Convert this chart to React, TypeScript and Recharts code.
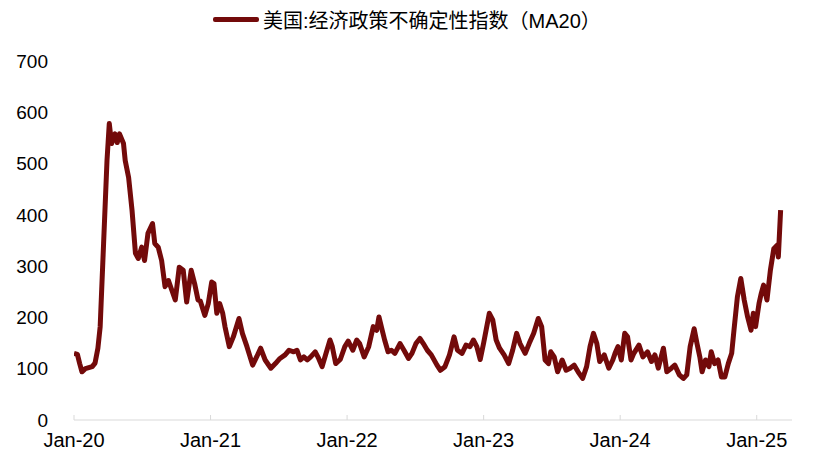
import { LineChart, Line, XAxis, YAxis } from 'recharts';

// months since Jan-2020
const months = [
  0, 0.3, 0.5, 0.7, 1.0, 1.3, 1.6, 1.85, 2.1, 2.3, 2.6, 2.9, 3.1, 3.3, 3.6, 3.8, 4.0, 4.35, 4.5, 4.8,
  5.1, 5.4, 5.65, 5.95, 6.2, 6.5, 6.9, 7.1, 7.4, 7.7, 8.0, 8.3, 8.6, 8.9, 9.25, 9.6, 9.9, 10.3, 10.6, 10.9,
  11.1, 11.5, 11.8, 12.1, 12.3, 12.55, 12.8, 13.07, 13.27, 13.65, 14.0, 14.5, 14.8, 15.2, 15.7, 16.05, 16.4, 16.8, 17.3, 17.7,
  18.1, 18.55, 18.9, 19.3, 19.6, 19.9, 20.2, 20.5, 20.8, 21.2, 21.5, 21.8, 22.15, 22.5, 22.7, 23.0, 23.4, 23.8, 24.1, 24.5,
  24.85, 25.1, 25.5, 25.9, 26.3, 26.6, 26.8, 27.05, 27.3, 27.6, 27.9, 28.2, 28.65, 29.0, 29.4, 29.7, 30.05, 30.4, 30.7, 31.05,
  31.4, 31.9, 32.2, 32.6, 33.0, 33.4, 33.7, 34.1, 34.45, 34.8, 35.1, 35.4, 35.7, 36.0, 36.5, 36.8, 37.1, 37.4, 37.8, 38.2,
  38.55, 38.9, 39.2, 39.65, 40.0, 40.4, 40.8, 41.1, 41.4, 41.7, 41.9, 42.2, 42.5, 42.9, 43.25, 43.6, 43.95, 44.3, 44.7, 45.05,
  45.35, 45.65, 45.95, 46.2, 46.6, 47.0, 47.35, 47.55, 47.8, 48.1, 48.4, 48.65, 48.95, 49.2, 49.65, 50.0, 50.4, 50.75, 51.05, 51.35,
  51.8, 52.1, 52.5, 52.8, 53.2, 53.55, 53.85, 54.15, 54.5, 54.75, 55.0, 55.2, 55.5, 55.8, 56.0, 56.3, 56.6, 56.9, 57.2, 57.5,
  57.8, 58.0, 58.3, 58.6, 58.9, 59.2, 59.5, 59.7, 59.9, 60.2, 60.4, 60.6, 60.9, 61.2, 61.5, 61.8, 61.9, 62.1,
];

const epu = [
  130, 128, 110, 94, 100, 102, 104, 111, 140, 182, 344, 506, 578, 539, 558, 541, 558, 539, 506, 473,
  409, 325, 315, 337, 311, 364, 383, 344, 337, 311, 260, 272, 253, 234, 298, 292, 230, 292, 266, 234,
  232, 204, 227, 269, 266, 208, 227, 208, 182, 143, 162, 198, 169, 143, 107, 123, 140, 117, 101, 110,
  120, 127, 136, 133, 136, 117, 123, 117, 123, 133, 120, 104, 130, 156, 143, 110, 118, 143, 154, 136,
  156, 149, 123, 143, 182, 175, 201, 178, 156, 133, 136, 130, 149, 136, 120, 130, 149, 159, 149, 136,
  127, 107, 97, 104, 127, 162, 136, 130, 146, 143, 156, 143, 118, 150, 208, 195, 156, 140, 127, 110,
  136, 169, 149, 130, 149, 169, 198, 182, 117, 110, 133, 123, 94, 117, 97, 101, 107, 94, 81, 104,
  143, 169, 149, 114, 127, 101, 117, 130, 143, 117, 169, 162, 117, 130, 146, 123, 133, 114, 127, 101,
  140, 94, 101, 107, 88, 81, 88, 143, 178, 149, 123, 94, 117, 104, 133, 110, 117, 84, 84, 110,
  130, 175, 240, 276, 234, 201, 175, 208, 182, 227, 247, 263, 234, 292, 334, 341, 318, 409,
];

const tickMonths = [0, 12, 24, 36, 48, 60];
const tickLabels = ['Jan-20', 'Jan-21', 'Jan-22', 'Jan-23', 'Jan-24', 'Jan-25'];
const yTicks = [0, 100, 200, 300, 400, 500, 600, 700];

const seriesName = '美国:经济政策不确定性指数（MA20）';

const data = months.map((t, i) => ({ t, v: epu[i] }));

const FONT = '"Liberation Sans", Arial, "Noto Sans CJK SC", sans-serif';
const LINE_COLOR = '#730a0a';

const XTick = (props: any) => {
  const { x, y, payload } = props;
  const idx = tickMonths.indexOf(payload.value);
  return (
    <g>
      <line x1={x} x2={x} y1={y} y2={y - 5} stroke="#d9d9d9" strokeWidth={1} />
      <text x={x} y={y + 27} textAnchor="middle" fontSize={20} fontFamily={FONT} fill="#000">
        {tickLabels[idx]}
      </text>
    </g>
  );
};

export default function App() {
  return (
    <div style={{ position: 'absolute', left: 0, top: 0, width: 814, height: 468, background: '#fff' }}>
      <div
        style={{
          position: 'absolute',
          left: 213,
          top: 5,
          display: 'flex',
          alignItems: 'center',
          fontFamily: FONT,
          fontSize: 20,
          color: '#000',
          whiteSpace: 'nowrap',
        }}
      >
        <span style={{ display: 'inline-block', width: 46, height: 5, background: LINE_COLOR, borderRadius: 2, marginRight: 4 }} />
        <span>{seriesName}</span>
      </div>
      <LineChart width={814} height={468} data={data} margin={{ top: 61, right: 22, bottom: 18, left: 0 }}>
        <XAxis
          type="number"
          dataKey="t"
          domain={[0, 63.1]}
          ticks={tickMonths}
          interval={0}
          height={30}
          tickSize={0}
          tickMargin={0}
          tickLine={false}
          stroke="#d9d9d9"
          tick={<XTick />}
          allowDataOverflow
        />
        <YAxis
          type="number"
          domain={[0, 700]}
          ticks={yTicks}
          interval={0}
          width={74}
          axisLine={false}
          tickLine={false}
          tickSize={0}
          tickMargin={26}
          tick={{ fill: '#000', fontSize: 19, fontFamily: FONT }}
        />
        <Line
          type="linear"
          dataKey="v"
          name={seriesName}
          stroke={LINE_COLOR}
          strokeWidth={5}
          dot={false}
          strokeLinejoin="round"
          isAnimationActive={false}
        />
      </LineChart>
    </div>
  );
}
